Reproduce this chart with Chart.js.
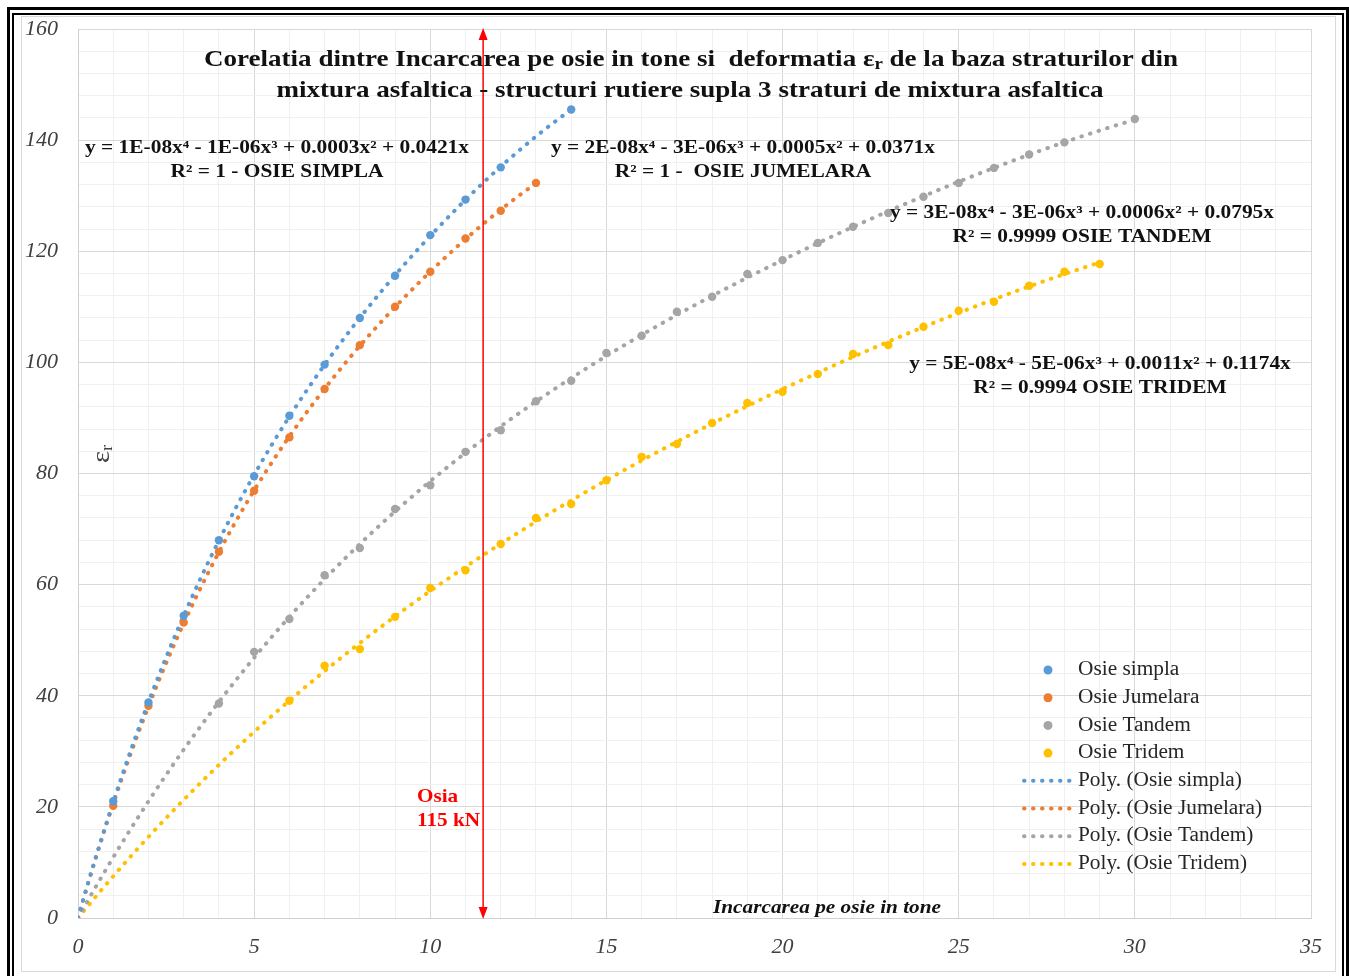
<!DOCTYPE html>
<html>
<head>
<meta charset="utf-8">
<script src="https://cdn.jsdelivr.net/npm/chart.js@4.4.0/dist/chart.umd.min.js"></script>
<style>
  html, body { margin: 0; padding: 0; background: #fff; }
</style>
</head>
<body>
<canvas id="chart" width="1349" height="976"></canvas>
<script>
// load on axle (tonnes) and strain eps_r
const loadSimpla = [1, 2, 3, 4, 5, 6, 7, 8, 9, 10, 11, 12, 14];
const epsSimpla = [21, 38.8, 54.4, 68, 79.5, 90.4, 99.6, 108, 115.6, 122.9, 129.3, 135.1, 145.5];

const loadJumelara = [1, 2, 3, 4, 5, 6, 7, 8, 9, 10, 11, 12, 13];
const epsJumelara = [20.2, 38.2, 53.2, 65.9, 76.9, 86.5, 95.2, 103.1, 110, 116.3, 122.3, 127.3, 132.3];

const loadTandem = [4, 5, 6, 7, 8, 9, 10, 11, 12, 13, 14, 15, 16, 17, 18, 19, 20, 21, 22, 23, 24, 25, 26, 27, 28, 30];
const epsTandem = [38.6, 47.9, 53.8, 61.7, 66.6, 73.6, 77.9, 83.9, 87.8, 93, 96.7, 101.7, 104.8, 109.1, 111.8, 115.9, 118.4, 121.5, 124.4, 126.9, 129.8, 132.3, 135, 137.4, 139.6, 143.8];

const loadTridem = [6, 7, 8, 9, 10, 11, 12, 13, 14, 15, 16, 17, 18, 19, 20, 21, 22, 23, 24, 25, 26, 27, 28, 29];
const epsTridem = [39.1, 45.4, 48.4, 54.2, 59.4, 62.6, 67.3, 72, 74.5, 78.8, 83, 85.3, 89.1, 92.7, 94.7, 97.9, 101.5, 103.1, 106.4, 109.3, 110.9, 113.8, 116.3, 117.7];

// 115 kN axle
const axleLoad = 11.5;

const seriesNames = ["Osie simpla", "Osie Jumelara", "Osie Tandem", "Osie Tridem"];
const seriesColors = ["#5B9BD5", "#ED7D31", "#A5A5A5", "#FFC000"];

const xMin = 0, xMax = 35, xStep = 1, xLabelEvery = 5;
const yMin = 0, yMax = 160, yStep = 4, yLabelEvery = 20;

const equations = [
  ["y = 1E-08x\u2074 - 1E-06x\u00b3 + 0.0003x\u00b2 + 0.0421x", "R\u00b2 = 1 - OSIE SIMPLA"],
  ["y = 2E-08x\u2074 - 3E-06x\u00b3 + 0.0005x\u00b2 + 0.0371x", "R\u00b2 = 1 -  OSIE JUMELARA"],
  ["y = 3E-08x\u2074 - 3E-06x\u00b3 + 0.0006x\u00b2 + 0.0795x", "R\u00b2 = 0.9999 OSIE TANDEM"],
  ["y = 5E-08x\u2074 - 5E-06x\u00b3 + 0.0011x\u00b2 + 0.1174x", "R\u00b2 = 0.9994 OSIE TRIDEM"]
];

const loads = [loadSimpla, loadJumelara, loadTandem, loadTridem];
const values = [epsSimpla, epsJumelara, epsTandem, epsTridem];
const pts = (xs, ys) => xs.map((x, i) => ({ x, y: ys[i] }));

// order-4 polynomial trendline, intercept set to 0 (least squares on the data, like the spreadsheet)
function polyTrend(xs, ys, deg) {
  const s = 10; // scale x for conditioning
  const A = [], b = [];
  for (let i = 0; i < deg; i++) { A.push(new Array(deg).fill(0)); b.push(0); }
  xs.forEach((x, n) => {
    const phi = [];
    for (let k = 1; k <= deg; k++) phi.push(Math.pow(x / s, k));
    for (let i = 0; i < deg; i++) {
      b[i] += phi[i] * ys[n];
      for (let j = 0; j < deg; j++) A[i][j] += phi[i] * phi[j];
    }
  });
  for (let c = 0; c < deg; c++) {
    let p = c;
    for (let r = c + 1; r < deg; r++) if (Math.abs(A[r][c]) > Math.abs(A[p][c])) p = r;
    [A[c], A[p]] = [A[p], A[c]]; [b[c], b[p]] = [b[p], b[c]];
    for (let r = c + 1; r < deg; r++) {
      const f = A[r][c] / A[c][c];
      for (let k = c; k < deg; k++) A[r][k] -= f * A[c][k];
      b[r] -= f * b[c];
    }
  }
  const a = new Array(deg).fill(0);
  for (let r = deg - 1; r >= 0; r--) {
    let v = b[r];
    for (let k = r + 1; k < deg; k++) v -= A[r][k] * a[k];
    a[r] = v / A[r][r];
  }
  const out = [];
  const last = xs[xs.length - 1];
  for (let x = 0; x <= last + 1e-9; x += 0.1) {
    let y = 0;
    for (let k = 1; k <= deg; k++) y += a[k - 1] * Math.pow(x / s, k);
    out.push({ x, y });
  }
  return out;
}

const SERIF = '"Liberation Serif", "Times New Roman", serif';
const DOTS = [0.5, 8.5];

const markerSets = seriesNames.map((name, i) => ({
  label: name,
  data: pts(loads[i], values[i]),
  backgroundColor: seriesColors[i],
  borderWidth: 0,
  pointRadius: 4.2,
  pointHoverRadius: 4.2,
  showLine: false,
  order: 1
}));

const trendSets = seriesNames.map((name, i) => ({
  label: "Poly. (" + name + ")",
  data: polyTrend(loads[i], values[i], 4),
  borderColor: seriesColors[i],
  borderWidth: 4,
  borderDash: DOTS,
  borderCapStyle: "round",
  pointRadius: 0,
  pointHoverRadius: 0,
  showLine: true,
  tension: 0,
  fill: false,
  order: 2
}));

function segWidth(c, segs) {
  let w = 0;
  segs.forEach(s => { c.font = s.font; w += c.measureText(s.t).width; });
  return w;
}

// draw text centred on cx, stretched horizontally by sx
function drawRich(c, segs, cx, cy, sx) {
  const w = segWidth(c, segs);
  c.save();
  c.translate(cx, cy);
  c.scale(sx || 1, 1);
  let x = -w / 2;
  segs.forEach(s => {
    c.font = s.font;
    c.fillText(s.t, x, s.dy || 0);
    x += c.measureText(s.t).width;
  });
  c.restore();
}

const decor = {
  id: "decor",
  beforeDraw(chart) {
    const c = chart.ctx;
    c.save();
    c.fillStyle = "#fff";
    c.fillRect(0, 0, chart.width, chart.height);
    c.strokeStyle = "#d9d9d9";
    c.lineWidth = 1;
    c.strokeRect(21.5, 16.5, 1314, 955);
    c.strokeStyle = "#000";
    c.lineWidth = 3;
    c.strokeRect(8.5, 8.5, 1339, 1000);
    c.lineWidth = 2;
    c.strokeRect(13, 14, 1330, 1000);
    c.restore();
  },
  afterDatasetsDraw(chart) {
    const c = chart.ctx, sx = chart.scales.x, sy = chart.scales.y;
    const x = sx.getPixelForValue(axleLoad);
    const yTop = sy.getPixelForValue(yMax), yBot = sy.getPixelForValue(yMin);
    c.save();
    c.strokeStyle = c.fillStyle = "#ff0000";
    c.lineWidth = 1.5;
    c.beginPath();
    c.moveTo(x, yTop + 8);
    c.lineTo(x, yBot - 8);
    c.stroke();
    c.beginPath();
    c.moveTo(x, yTop - 1); c.lineTo(x - 4.5, yTop + 11); c.lineTo(x + 4.5, yTop + 11); c.closePath();
    c.fill();
    c.beginPath();
    c.moveTo(x, yBot + 1); c.lineTo(x - 4.5, yBot - 11); c.lineTo(x + 4.5, yBot - 11); c.closePath();
    c.fill();
    c.restore();
  },
  afterDraw(chart) {
    const c = chart.ctx;
    c.save();
    c.textBaseline = "middle";
    c.fillStyle = "#111";

    // title
    const tf = "bold 23px " + SERIF;
    const t1 = [
      { t: "Corelatia dintre Incarcarea pe osie in tone si  deformatia \u03b5", font: tf },
      { t: "r", font: "bold 16px " + SERIF, dy: 5 },
      { t: " de la baza straturilor din", font: tf }
    ];
    const tsx = 974 / segWidth(c, t1);
    drawRich(c, t1, 691, 60, tsx);
    drawRich(c, [{ t: "mixtura asfaltica - structuri rutiere supla 3 straturi de mixtura asfaltica", font: tf }], 690, 91, tsx);

    // trendline equations
    const ef = "bold 18px " + SERIF;
    const esx = 384 / segWidth(c, [{ t: equations[0][0], font: ef }]);
    const eqPos = [[277, 148], [743, 148], [1082, 213], [1100, 364]];
    equations.forEach((lines, i) => {
      drawRich(c, [{ t: lines[0], font: ef }], eqPos[i][0], eqPos[i][1], esx);
      drawRich(c, [{ t: lines[1], font: ef }], eqPos[i][0], eqPos[i][1] + 24, esx);
    });

    // axis titles
    const xt = [{ t: "Incarcarea pe osie in tone", font: "italic bold 19px " + SERIF }];
    drawRich(c, xt, 827, 908, 228 / segWidth(c, xt));
    c.save();
    c.translate(102, 454);
    c.rotate(-Math.PI / 2);
    c.fillStyle = "#404040";
    drawRich(c, [
      { t: "\u03b5", font: "26px " + SERIF },
      { t: "r", font: "17px " + SERIF, dy: 6 }
    ], 0, 0, 1.1);
    c.restore();

    // axle marker label
    c.fillStyle = "#ff0000";
    const of = "bold 19px " + SERIF;
    const osx = 63 / segWidth(c, [{ t: "115 kN", font: of }]);
    const ow = segWidth(c, [{ t: "Osia", font: of }]) * osx;
    drawRich(c, [{ t: "Osia", font: of }], 417 + ow / 2, 797, osx);
    drawRich(c, [{ t: "115 kN", font: of }], 417 + 31.5, 821, osx);

    // legend
    const rowY = 670, rowH = 27.7;
    const lf = "20px " + SERIF;
    const lsx = 184 / segWidth(c, [{ t: "Poly. (Osie Jumelara)", font: lf }]);
    const all = markerSets.concat(trendSets);
    all.forEach((ds, i) => {
      const y = rowY + i * rowH;
      const col = seriesColors[i % 4];
      if (i < 4) {
        c.fillStyle = col;
        c.beginPath();
        c.arc(1048, y, 4.5, 0, Math.PI * 2);
        c.fill();
      } else {
        c.strokeStyle = col;
        c.lineWidth = 4;
        c.lineCap = "round";
        c.setLineDash(DOTS);
        c.beginPath();
        c.moveTo(1024, y);
        c.lineTo(1070, y);
        c.stroke();
        c.setLineDash([]);
      }
      c.fillStyle = "#262626";
      const w = segWidth(c, [{ t: ds.label, font: lf }]) * lsx;
      drawRich(c, [{ t: ds.label, font: lf }], 1078 + w / 2, y, lsx);
    });
    c.restore();
  }
};

const tickFont = { family: SERIF, size: 22, style: "italic" };

new Chart(document.getElementById("chart").getContext("2d"), {
  type: "scatter",
  data: { datasets: markerSets.concat(trendSets) },
  options: {
    responsive: false,
    animation: false,
    events: [],
    layout: { padding: { top: 29, right: 38, left: 0, bottom: 0 } },
    plugins: {
      legend: { display: false },
      tooltip: { enabled: false },
      title: { display: false }
    },
    scales: {
      x: {
        type: "linear",
        min: xMin, max: xMax,
        afterFit: s => { s.height = 58; s.paddingLeft = 0; s.paddingRight = 0; },
        ticks: {
          stepSize: xStep, autoSkip: false, maxRotation: 0, padding: 16,
          font: tickFont, color: "#404040",
          callback: v => (v % xLabelEvery === 0 ? v : "")
        },
        grid: {
          drawTicks: false,
          color: ctx => (ctx.tick && ctx.tick.value % xLabelEvery === 0 ? "#d9d9d9" : "#f0f0f0")
        },
        border: { color: "#d0d0d0" }
      },
      y: {
        type: "linear",
        min: yMin, max: yMax,
        afterFit: s => { s.width = 78; s.paddingTop = 0; s.paddingBottom = 0; },
        ticks: {
          stepSize: yStep, autoSkip: false, padding: 20,
          font: tickFont, color: "#404040",
          callback: v => (v % yLabelEvery === 0 ? v : "")
        },
        grid: {
          drawTicks: false,
          color: ctx => (ctx.tick && ctx.tick.value % yLabelEvery === 0 ? "#d9d9d9" : "#f0f0f0")
        },
        border: { color: "#d0d0d0" }
      }
    }
  },
  plugins: [decor]
});
</script>
</body>
</html>
